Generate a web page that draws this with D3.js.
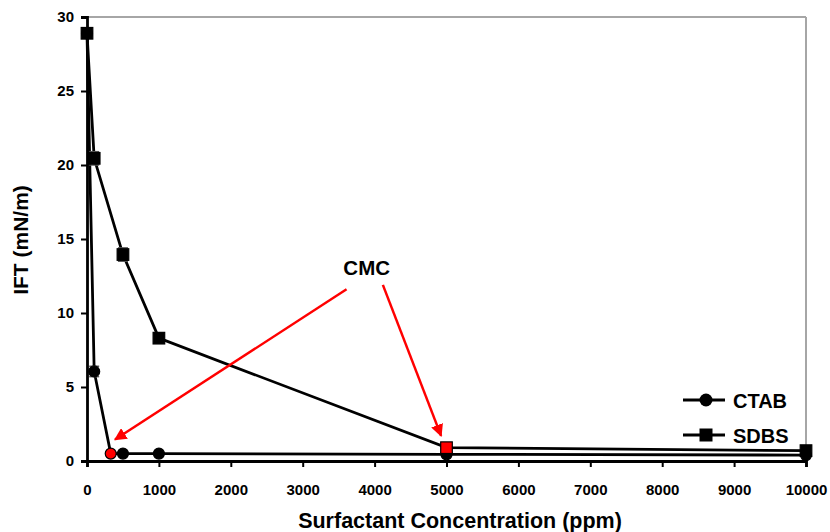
<!DOCTYPE html>
<html>
<head>
<meta charset="utf-8">
<script src="https://cdn.jsdelivr.net/npm/d3@7"></script>
<style>
  body { margin: 0; background: #fff; }
  svg { display: block; }
  .tick text { font-family: "Liberation Sans", Arial, sans-serif; font-weight: bold; font-size: 15px; fill: #000; }
  .lbl { font-family: "Liberation Sans", Arial, sans-serif; font-weight: bold; fill: #000; }
</style>
</head>
<body>
<svg width="830" height="532"></svg>
<script>
// data
const ctabX = [0, 100, 330, 500, 1000, 5000, 10000];
const ctabY = [28.9, 6.05, 0.5, 0.5, 0.5, 0.45, 0.4];
const ctabErr = [0, 0.35, 0, 0, 0, 0, 0];
const ctabCmc = 330;

const sdbsX = [0, 100, 500, 1000, 5000, 10000];
const sdbsY = [28.9, 20.45, 13.95, 8.3, 0.9, 0.7];
const sdbsErr = [0, 0.45, 0.45, 0.2, 0, 0];
const sdbsCmc = 5000;

const xTicks = [0, 1000, 2000, 3000, 4000, 5000, 6000, 7000, 8000, 9000, 10000];
const yTicks = [0, 5, 10, 15, 20, 25, 30];

// annotation arrows in data units: [fromX, fromY, toX, toY]
const cmcArrows = [[3610, 11.6, 390, 1.45], [4115, 11.9, 4925, 1.7]];
const cmcLabel = [3890, 12.6];

const svg = d3.select("svg");
const m = { left: 87, right: 806, top: 17, bottom: 461 };

const x = d3.scaleLinear().domain([0, 10000]).range([m.left, m.right]);
const y = d3.scaleLinear().domain([0, 30]).range([m.bottom, m.top]);

// grey frame top / right
svg.append("line").attr("x1", m.left).attr("x2", m.right).attr("y1", m.top).attr("y2", m.top)
  .attr("stroke", "#a6a6a6").attr("stroke-width", 2);
svg.append("line").attr("x1", m.right).attr("x2", m.right).attr("y1", m.top).attr("y2", m.bottom)
  .attr("stroke", "#a6a6a6").attr("stroke-width", 2);

// axes
const xAxis = svg.append("g").attr("transform", `translate(0,${m.bottom})`)
  .call(d3.axisBottom(x).tickValues(xTicks).tickSize(6).tickPadding(17).tickFormat(d3.format("d")));
const yAxis = svg.append("g").attr("transform", `translate(${m.left},0)`)
  .call(d3.axisLeft(y).tickValues(yTicks).tickSize(6).tickPadding(7));
[xAxis, yAxis].forEach(g => {
  g.select(".domain").attr("stroke", "#000").attr("stroke-width", 2.8);
  g.selectAll(".tick line").attr("stroke", "#000").attr("stroke-width", 2);
});

const line = d3.line().x(d => x(d[0])).y(d => y(d[1]));

function drawSeries(xs, ys, errs, shape, cmc) {
  const pts = xs.map((v, i) => [v, ys[i], errs[i]]);
  svg.append("path").datum(pts).attr("d", line)
    .attr("fill", "none").attr("stroke", "#000").attr("stroke-width", 2.8);
  // error bars
  pts.filter(d => d[2] > 0).forEach(d => {
    const g = svg.append("g").attr("stroke", "#555").attr("stroke-width", 1.5);
    g.append("line").attr("x1", x(d[0])).attr("x2", x(d[0])).attr("y1", y(d[1] - d[2])).attr("y2", y(d[1] + d[2]));
    [d[1] - d[2], d[1] + d[2]].forEach(v => {
      g.append("line").attr("x1", x(d[0]) - 5).attr("x2", x(d[0]) + 5).attr("y1", y(v)).attr("y2", y(v));
    });
  });
  pts.forEach(d => {
    const fill = d[0] === cmc ? "#ff0000" : "#000";
    if (shape === "circle") {
      svg.append("circle").attr("cx", x(d[0])).attr("cy", y(d[1])).attr("r", 5.5)
        .attr("fill", fill).attr("stroke", "#000").attr("stroke-width", 1.2);
    } else {
      svg.append("rect").attr("x", x(d[0]) - 5.8).attr("y", y(d[1]) - 5.8)
        .attr("width", 11.6).attr("height", 11.6)
        .attr("fill", fill).attr("stroke", "#000").attr("stroke-width", 1.2);
    }
  });
}

drawSeries(ctabX, ctabY, ctabErr, "circle", ctabCmc);
drawSeries(sdbsX, sdbsY, sdbsErr, "square", sdbsCmc);

// arrows
const defs = svg.append("defs");
defs.append("marker").attr("id", "arr").attr("viewBox", "0 0 10 10").attr("refX", 9).attr("refY", 5)
  .attr("markerWidth", 5).attr("markerHeight", 5).attr("markerUnits", "strokeWidth").attr("orient", "auto")
  .append("path").attr("d", "M0,0L10,5L0,10Z").attr("fill", "#ff0000");
cmcArrows.forEach(a => {
  svg.append("line").attr("x1", x(a[0])).attr("y1", y(a[1])).attr("x2", x(a[2])).attr("y2", y(a[3]))
    .attr("stroke", "#ff0000").attr("stroke-width", 2.5).attr("marker-end", "url(#arr)");
});
svg.append("text").attr("class", "lbl").attr("x", x(cmcLabel[0])).attr("y", y(cmcLabel[1]))
  .attr("text-anchor", "middle").attr("font-size", 20.5).text("CMC");

// legend
const legend = [["CTAB", "circle", 400], ["SDBS", "square", 435]];
legend.forEach(([name, shape, ly]) => {
  svg.append("line").attr("x1", 683).attr("x2", 725).attr("y1", ly).attr("y2", ly)
    .attr("stroke", "#000").attr("stroke-width", 2.8);
  if (shape === "circle") svg.append("circle").attr("cx", 706).attr("cy", ly).attr("r", 6.5).attr("fill", "#000");
  else svg.append("rect").attr("x", 699.5).attr("y", ly - 6.5).attr("width", 13).attr("height", 13).attr("fill", "#000");
  svg.append("text").attr("class", "lbl").attr("x", 733).attr("y", ly + 7.5).attr("font-size", 20).text(name);
});

// axis titles
svg.append("text").attr("class", "lbl").attr("x", 460).attr("y", 528).attr("text-anchor", "middle")
  .attr("font-size", 21.5).text("Surfactant Concentration (ppm)");
svg.append("text").attr("class", "lbl").attr("transform", "translate(28,240) rotate(-90)")
  .attr("text-anchor", "middle").attr("font-size", 21).text("IFT (mN/m)");
</script>
</body>
</html>
